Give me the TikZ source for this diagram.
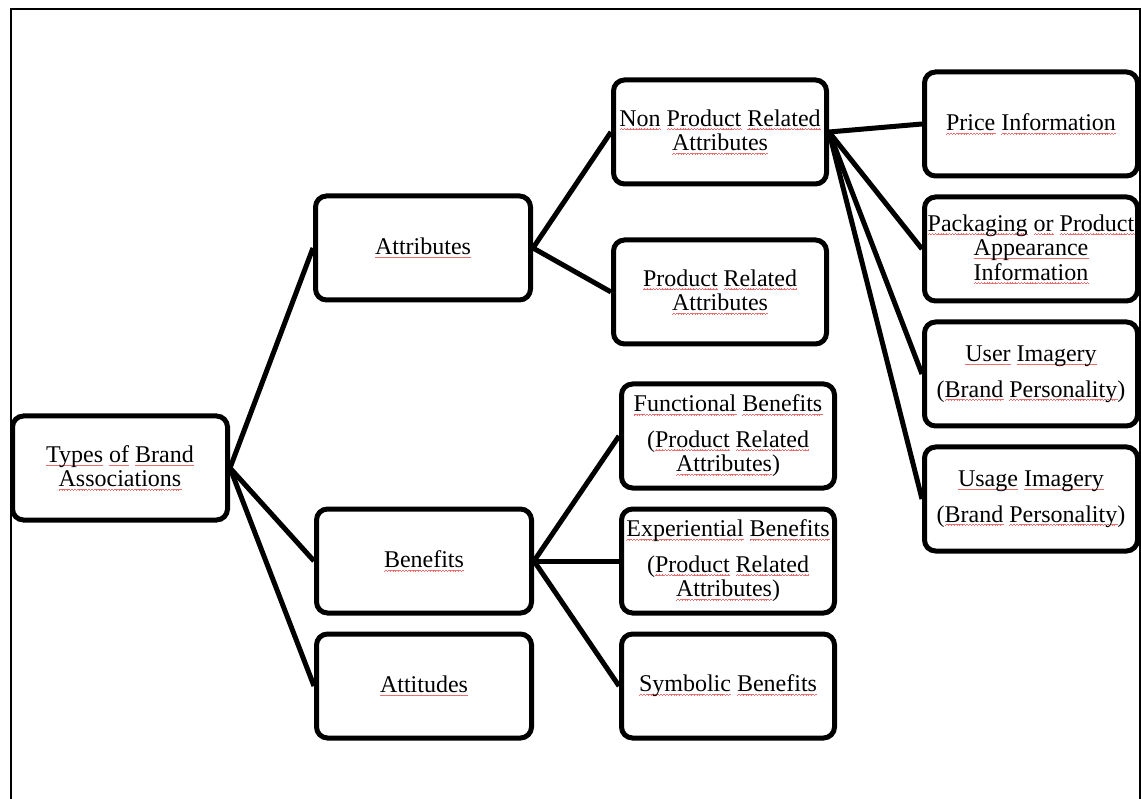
\documentclass[tikz,border=0pt]{standalone}
\usepackage{fontspec}
\setmainfont{Liberation Serif}
\definecolor{squig}{RGB}{236,110,110}
\newsavebox\wordbox
\newcommand\W[1]{\sbox\wordbox{#1}\leavevmode\rlap{\color{squig}\hbox to \wd\wordbox{\xleaders\hbox{\rule[-3.4pt]{0.7pt}{0.55pt}\rule[-3.0pt]{0.7pt}{0.55pt}\rule[-2.6pt]{0.7pt}{0.55pt}\rule[-3.0pt]{0.7pt}{0.55pt}}\hfil}}\usebox\wordbox}
\begin{document}
\begin{tikzpicture}[x=1pt,y=-1pt,
  box/.style={draw, line width=5pt, rounded corners=11pt, fill=white,
    minimum width=213pt, minimum height=104pt, align=center, inner sep=0pt,
    font=\fontsize{24}{24.5}\selectfont},
  widebox/.style={box, minimum width=215pt},
  link/.style={line width=5pt},
  frame/.style={line width=2pt}]
\path[use as bounding box] (0,0) rectangle (1141,799);
\clip (0,0) rectangle (1141,799);
\coordinate (fbl) at (11,820);
\coordinate (ftl) at (11,9);
\coordinate (ftr) at (1140,9);
\coordinate (fbr) at (1140,820);
\draw[frame] (fbl) -- (ftl) -- (ftr) -- (fbr);

\node[widebox] (types) at (120,468) {\W{Types} \W{of} \W{Brand}\\\W{Associations}};
\node[widebox] (attr) at (423,248) {\W{Attributes}};
\node[widebox] (ben) at (424,561) {\W{Benefits}};
\node[widebox] (att) at (424,686) {\W{Attitudes}};

\node[box] (npr) at (720,132) {\W{Non} \W{Product} \W{Related}\\\W{Attributes}};
\node[box] (pr) at (720,292) {\W{Product} \W{Related}\\\W{Attributes}};

\node[box] (fun) at (728,436) {\W{Functional} \W{Benefits}\\[11pt](\W{Product} \W{Related}\\\W{Attributes})};
\node[box] (exp) at (728,561) {\W{Experiential} \W{Benefits}\\[11pt](\W{Product} \W{Related}\\\W{Attributes})};
\node[box] (sym) at (728,686) {\W{Symbolic} \W{Benefits}};

\node[box] (price) at (1031,124) {\W{Price} \W{Information}};
\node[box] (pack) at (1031,249) {\W{Packaging} \W{or} \W{Product}\\\W{Appearance}\\\W{Information}};
\node[box] (user) at (1031,374) {\W{User} \W{Imagery}\\[11pt](\W{Brand} \W{Personality})};
\node[box] (usage) at (1031,499) {\W{Usage} \W{Imagery}\\[11pt](\W{Brand} \W{Personality})};

\draw[link] (types.east) -- (attr.west);
\draw[link] (types.east) -- (ben.west);
\draw[link] (types.east) -- (att.west);
\draw[link] (attr.east) -- (npr.west);
\draw[link] (attr.east) -- (pr.west);
\draw[link] (ben.east) -- (fun.west);
\draw[link] (ben.east) -- (exp.west);
\draw[link] (ben.east) -- (sym.west);
\draw[link] (npr.east) -- (price.west);
\draw[link] (npr.east) -- (pack.west);
\draw[link] (npr.east) -- (user.west);
\draw[link] (npr.east) -- (usage.west);
\end{tikzpicture}
\end{document}
